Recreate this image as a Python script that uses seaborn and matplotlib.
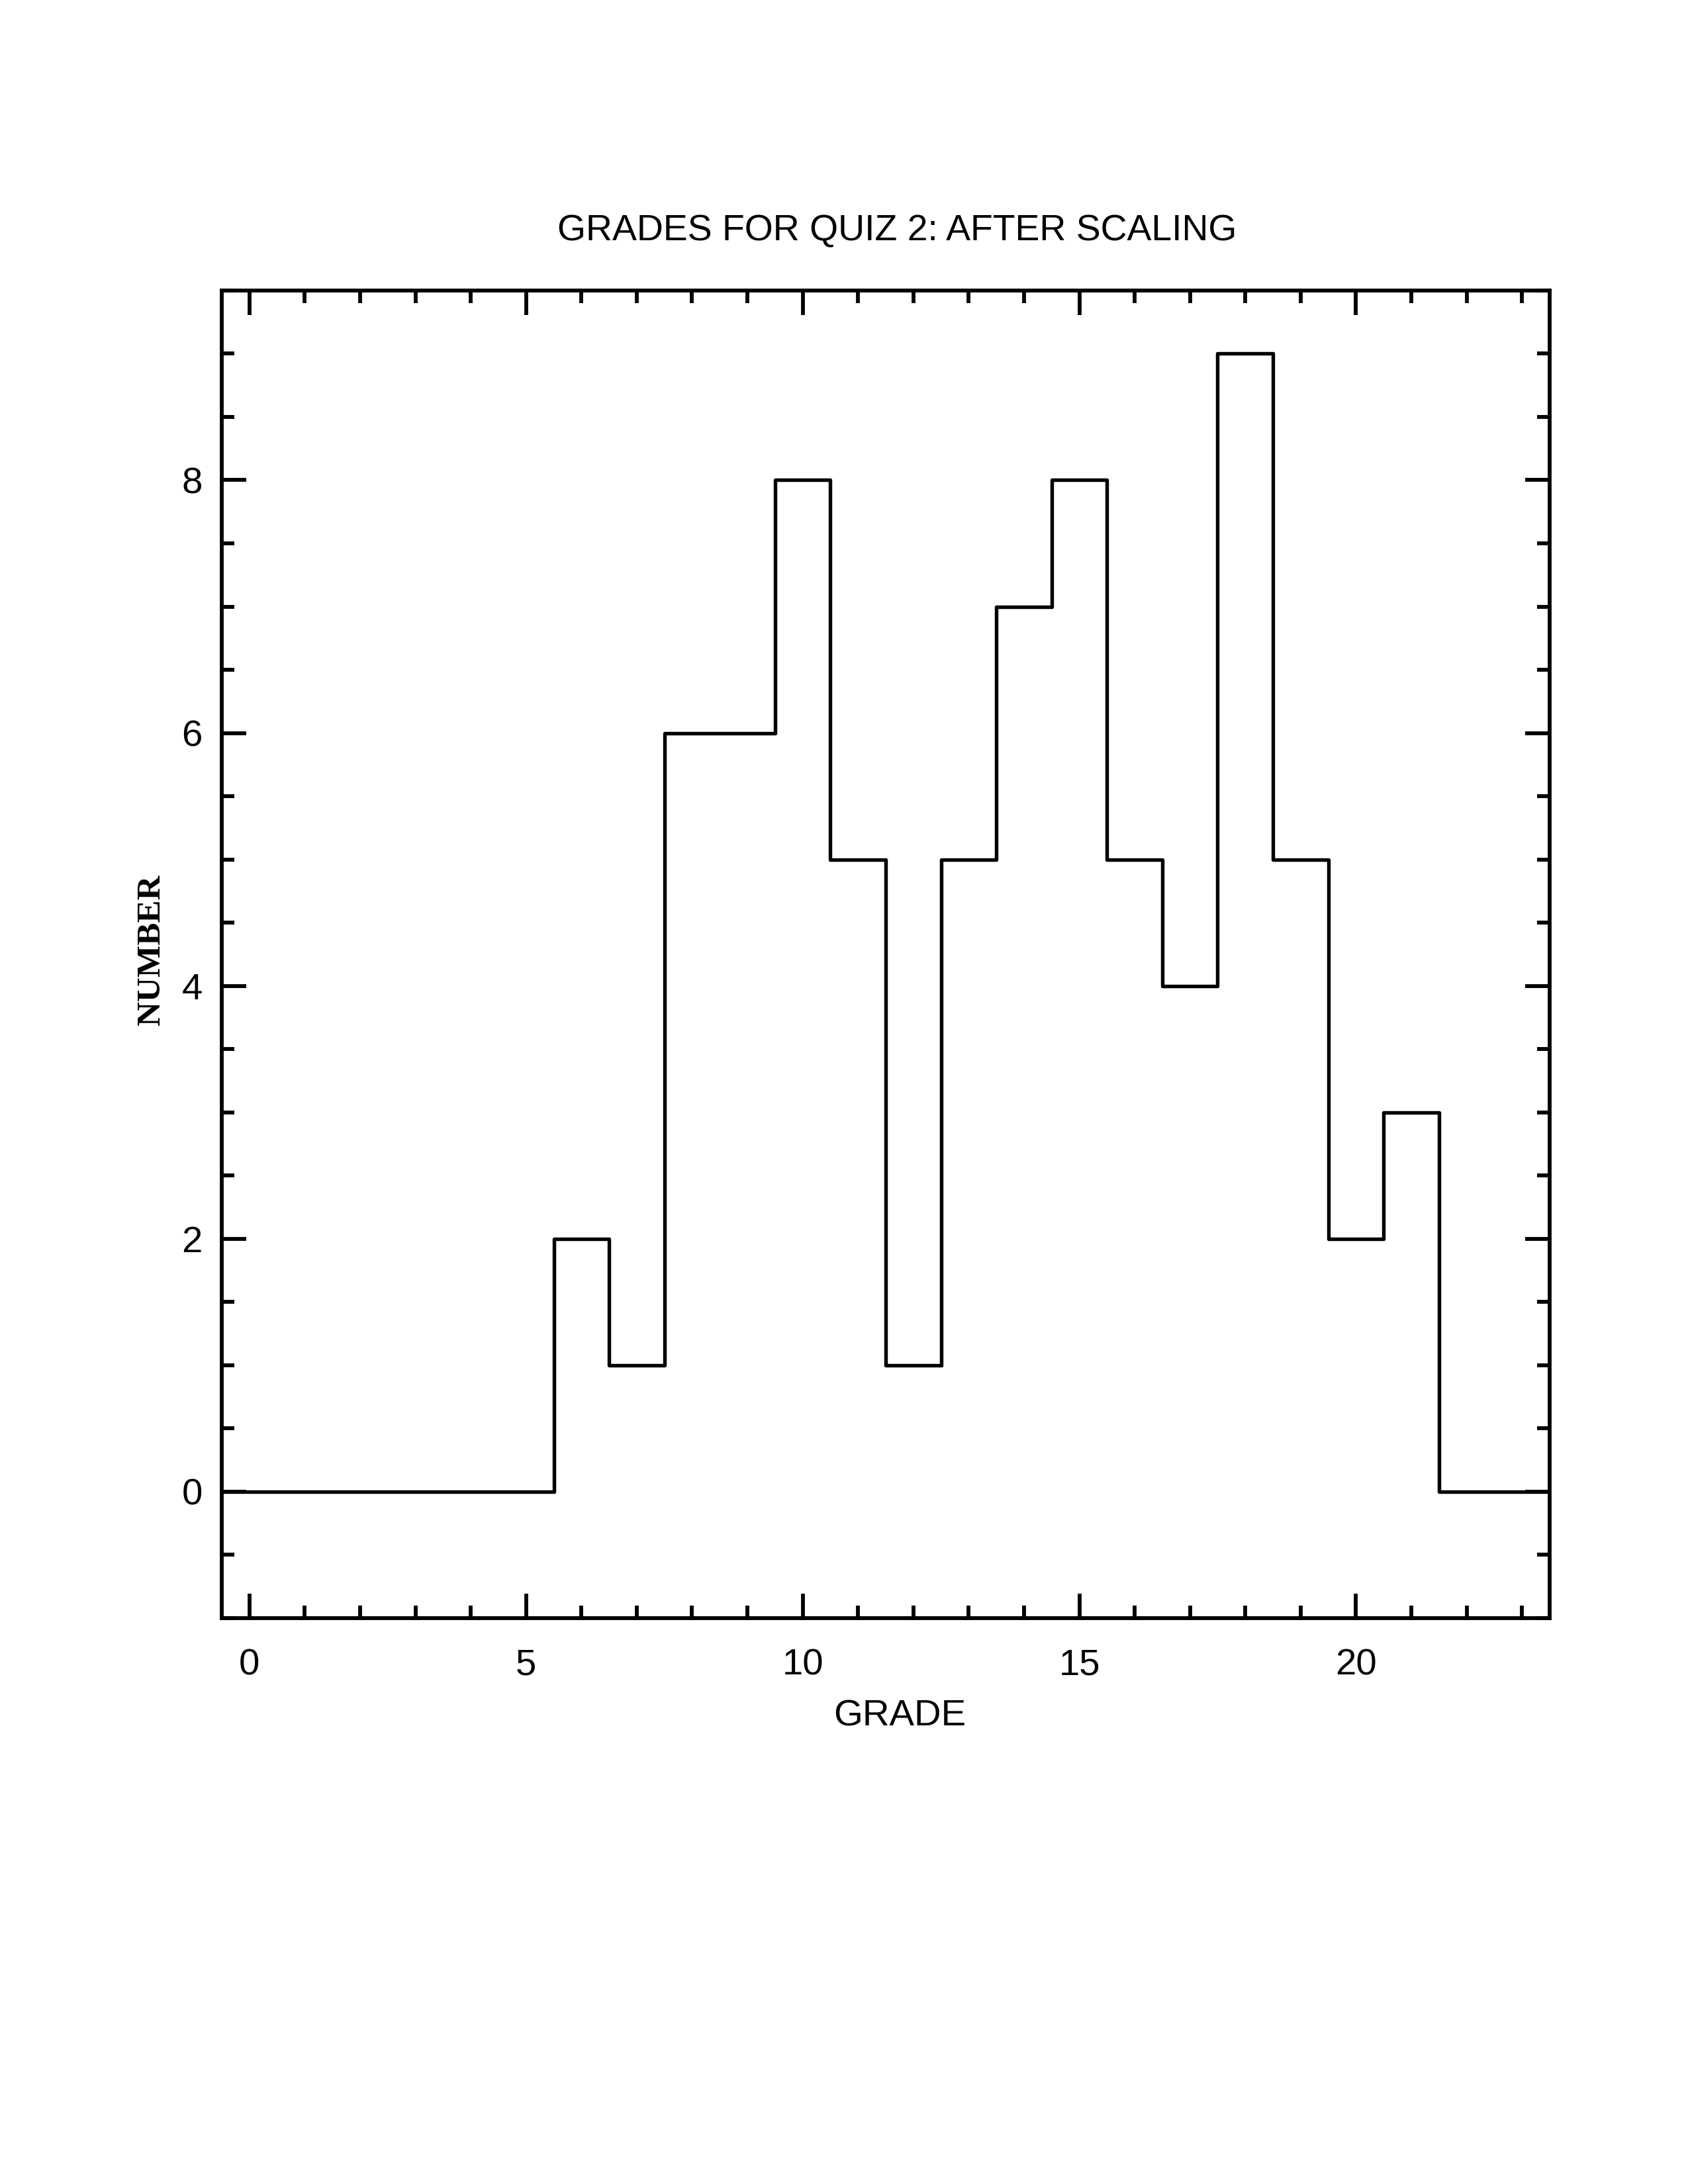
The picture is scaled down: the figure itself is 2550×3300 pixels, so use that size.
import matplotlib
matplotlib.use("Agg")
import matplotlib.pyplot as plt
import pandas as pd
import seaborn as sns
from matplotlib.ticker import MultipleLocator

# Quiz 2 grade distribution (after scaling)
grades = list(range(0, 24))
counts = [0, 0, 0, 0, 0, 0, 2, 1, 6, 6, 8, 5, 1, 5, 7, 8, 5, 4, 9, 5, 2, 3, 0, 0]

title = "GRADES FOR QUIZ 2: AFTER SCALING"
xlabel = "GRADE"
ylabel = "NUMBER"
xticks = [0, 5, 10, 15, 20]
yticks = [0, 2, 4, 6, 8]

sns.set_style("ticks")
plt.rcParams["font.family"] = ["Liberation Sans", "DejaVu Sans"]
plt.rcParams["text.color"] = "black"

df = pd.DataFrame({"grade": grades, "count": counts})

fig = plt.figure(figsize=(8.5, 11), dpi=300)
fig.patch.set_facecolor("white")
ax = fig.add_axes([0.1314, 0.2591, 0.918 - 0.1314, 0.867 - 0.2591])

# one bin per integer grade, centred on the grade
sns.histplot(data=df, x="grade", weights="count", discrete=True,
             element="step", fill=False, color="black", linewidth=1.3, ax=ax)

ax.set_xlim(-0.5, 23.5)
ax.set_ylim(-1, 9.5)
ax.set_xticks(xticks)
ax.set_yticks(yticks)
ax.xaxis.set_minor_locator(MultipleLocator(1))
ax.yaxis.set_minor_locator(MultipleLocator(0.5))

for side in ["top", "right", "bottom", "left"]:
    ax.spines[side].set_visible(True)
    ax.spines[side].set_linewidth(1.4)
    ax.spines[side].set_color("black")

ax.tick_params(which="both", direction="in", top=True, right=True,
               color="black", width=1.4, labelsize=13.5, labelcolor="black")
ax.tick_params(which="major", length=8.9)
ax.tick_params(which="minor", length=4.5)
ax.tick_params(axis="x", which="major", pad=11)
ax.tick_params(axis="y", which="major", pad=7)

ax.set_xlabel("")
ax.set_ylabel("")
fig.text(0.5315, 0.894, title, ha="center", va="center", fontsize=13.3, color="black")
fig.text(0.533, 0.214, xlabel, ha="center", va="center", fontsize=13.5, color="black")
fig.text(0.090, 0.565, ylabel, ha="center", va="center", rotation=90, color="black",
         fontsize=12.3, fontweight="heavy", family=["Liberation Serif", "DejaVu Serif"])

fig.savefig("out.png", dpi=300, facecolor="white")
